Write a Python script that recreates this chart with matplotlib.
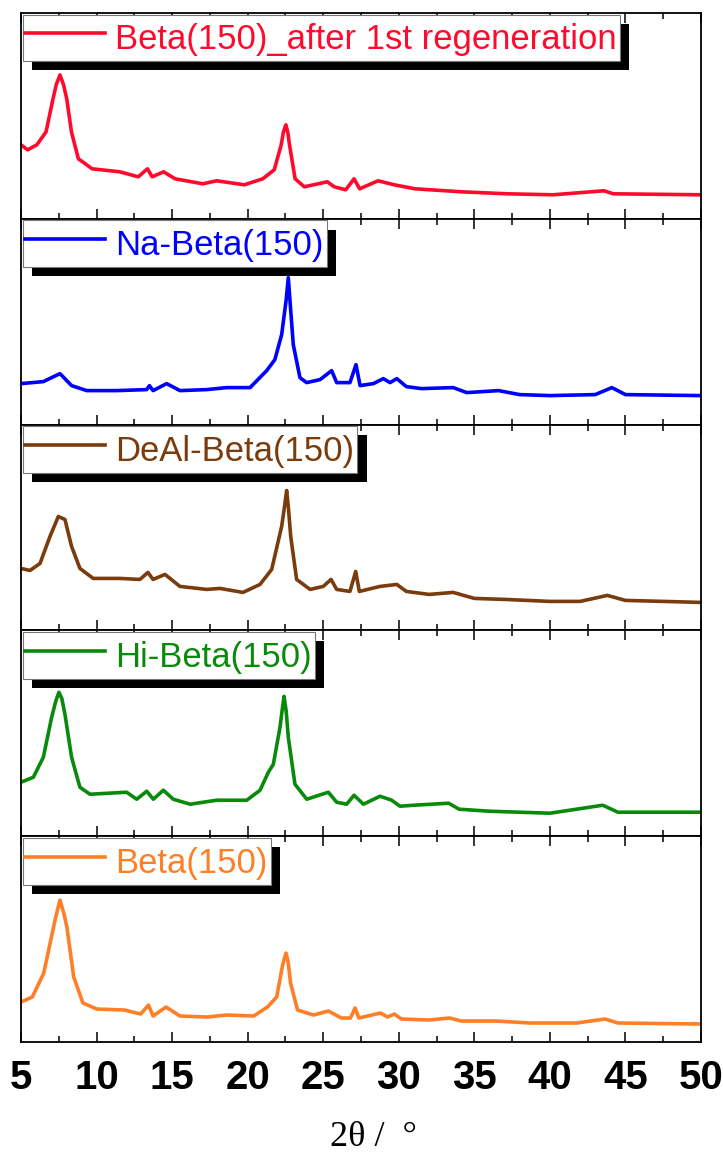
import matplotlib
matplotlib.use('Agg')
import matplotlib.pyplot as plt
import matplotlib.patheffects as pe
from matplotlib import font_manager as fm
from matplotlib.ticker import MultipleLocator

# intensities (a.u.), per sample
labels = ['Beta(150)_after 1st regeneration', 'Na-Beta(150)', 'DeAl-Beta(150)',
          'Hi-Beta(150)', 'Beta(150)']
colors = ['#FF0A2D', '#0000FF', '#7A3C0C', '#0A8A0A', '#FF7F27']

regen_x = [5.0, 5.44, 6.05, 6.66, 7.12, 7.33, 7.58, 7.82, 8.03, 8.34, 8.80, 9.71, 11.54, 12.76,
           13.37, 13.68, 14.44, 15.2, 17.03, 17.95, 19.78, 21.0, 21.76, 22.22, 22.37, 22.53,
           22.65, 22.77, 23.14, 23.75, 25.27, 25.73, 26.49, 27.04, 27.41, 28.63, 29.7, 31.07,
           34.12, 37.17, 40.2, 43.58, 44.19, 50.0]
regen_y = [74, 69, 74, 87, 120, 134, 144, 134, 120, 87, 60, 50, 47, 42,
           50, 42, 47, 40, 35, 38, 34, 40, 49, 74, 87, 94,
           87, 74, 40, 32, 37, 32, 29, 40, 30, 38, 34, 30,
           27, 25, 24, 28, 25, 24]

na_x = [5.0, 6.48, 7.58, 8.35, 9.35, 11.33, 13.32, 13.5, 13.74, 14.64, 15.52, 17.29, 18.61,
        20.16, 21.26, 21.8, 22.25, 22.55, 22.69, 22.82, 23.02, 23.46, 23.9, 24.79, 25.56,
        25.89, 26.77, 27.17, 27.44, 28.32, 28.98, 29.42, 29.87, 30.5, 31.5, 33.6, 34.5, 36.6,
        38.0, 40.0, 43.0, 44.1, 45.0, 50.0]
na_y = [41, 43, 51, 39, 34, 34, 35, 39, 34, 41, 34, 35, 37,
        37, 54, 65, 90, 125, 147, 120, 80, 47, 42, 45, 54,
        42, 42, 60, 39, 41, 46, 42, 46, 38, 36, 37, 32, 34,
        30, 29, 30, 37, 30, 29]

deal_x = [5.0, 5.6, 6.26, 6.92, 7.47, 7.91, 8.35, 8.9, 9.78, 11.55, 12.87, 13.4, 13.74,
          14.53, 15.52, 17.29, 18.17, 19.69, 20.82, 21.59, 22.25, 22.45, 22.58, 22.7, 22.85,
          23.24, 24.13, 25.0, 25.52, 25.89, 26.77, 27.15, 27.39, 28.76, 29.87, 30.5, 32.0,
          33.6, 35.0, 37.0, 40.0, 42.0, 43.8, 45.0, 50.0]
deal_y = [62, 60, 67, 94, 114, 111, 84, 62, 52, 52, 51, 58, 51,
          56, 44, 41, 42, 38, 46, 61, 104, 125, 140, 122, 94,
          51, 41, 44, 51, 41, 39, 59, 39, 44, 46, 39, 36,
          38, 32, 31, 29, 29, 35, 30, 28]

hi_x = [5.0, 5.82, 6.48, 7.03, 7.3, 7.51, 7.7, 7.91, 8.35, 8.9, 9.57, 11.99, 12.66, 13.32,
        13.76, 14.42, 15.08, 16.19, 17.95, 19.94, 20.82, 21.37, 21.7, 22.14, 22.3, 22.41,
        22.55, 22.69, 23.13, 23.91, 25.34, 25.89, 26.55, 27.04, 27.66, 28.76, 29.53, 30.08,
        31.0, 33.3, 34.0, 36.0, 40.0, 43.5, 44.5, 50.0]
hi_y = [54, 59, 79, 119, 135, 144, 138, 122, 79, 49, 42, 44, 37, 45,
        37, 46, 37, 32, 36, 36, 46, 64, 72, 109, 128, 140,
        125, 99, 52, 37, 44, 34, 32, 41, 32, 40, 36, 30,
        31, 33, 27, 25, 23, 31, 24, 24]

beta_x = [5.0, 5.75, 6.51, 6.97, 7.3, 7.58, 7.85, 8.04, 8.49, 9.1, 10.02, 11.85, 12.92, 13.44,
          13.74, 14.6, 15.52, 17.34, 18.57, 20.4, 21.31, 21.92, 22.29, 22.4, 22.54, 22.68,
          22.84, 23.3, 24.36, 25.34, 26.2, 26.8, 27.11, 27.36, 28.79, 29.25, 29.71, 30.17,
          32.0, 33.37, 34.13, 36.42, 38.7, 41.77, 43.65, 44.5, 50.0]
beta_y = [40, 45, 69, 102, 125, 142, 128, 115, 65, 39, 33, 32, 28, 37,
          26, 35, 26, 25, 27, 26, 35, 45, 75, 82, 89, 80,
          59, 32, 27, 31, 24, 24, 34, 24, 29, 25, 28, 23,
          22, 24, 21, 21, 19, 19, 23, 19, 18]

xs = [regen_x, na_x, deal_x, hi_x, beta_x]
ys = [regen_y, na_y, deal_y, hi_y, beta_y]

names = {f.name for f in fm.fontManager.ttflist}
sans = 'Liberation Sans' if 'Liberation Sans' in names else 'DejaVu Sans'
serif = 'Liberation Serif' if 'Liberation Serif' in names else 'DejaVu Serif'

fig, axes = plt.subplots(5, 1, figsize=(7.23, 11.57), dpi=100, sharex=True)
fig.subplots_adjust(left=0.029, right=0.9696, top=0.9888, bottom=0.0994, hspace=0)

for ax, x, y, lab, col in zip(axes, xs, ys, labels, colors):
    ax.plot(x, y, color=col, lw=2.6, label=lab, solid_joinstyle='round')
    ax.set_xlim(5, 50)
    ax.set_ylim(0, 206)
    ax.set_yticks([])
    ax.xaxis.set_major_locator(MultipleLocator(5))
    ax.xaxis.set_minor_locator(MultipleLocator(2.5))
    ax.tick_params(axis='x', which='both', direction='in', top=True, bottom=True, width=1.1)
    ax.tick_params(axis='x', which='major', length=7.5)
    ax.tick_params(axis='x', which='minor', length=4)
    for s in ax.spines.values():
        s.set_linewidth(1.3)
    leg = ax.legend(loc='upper left', bbox_to_anchor=(0, 1), borderaxespad=0.05,
                    fancybox=False, framealpha=1, edgecolor='#777777',
                    prop={'family': sans, 'size': 24.9}, labelcolor='linecolor',
                    handlelength=2.3, handletextpad=0.3, borderpad=0.08, handleheight=1.45)
    leg.get_frame().set_linewidth(0.8)
    leg.get_frame().set_path_effects([pe.SimplePatchShadow(offset=(7, -6.5), shadow_rgbFace='k', alpha=1.0),
                                      pe.Normal()])

last = axes[-1]
last.tick_params(axis='x', which='major', pad=12)
for t in last.get_xticklabels():
    t.set_fontfamily(sans)
    t.set_fontweight('bold')
    t.set_fontsize(29)
last.set_xlabel('2θ /  °', family=serif, fontsize=26)
last.xaxis.set_label_coords(0.518, -0.385)

fig.savefig('out.png', dpi=100)
